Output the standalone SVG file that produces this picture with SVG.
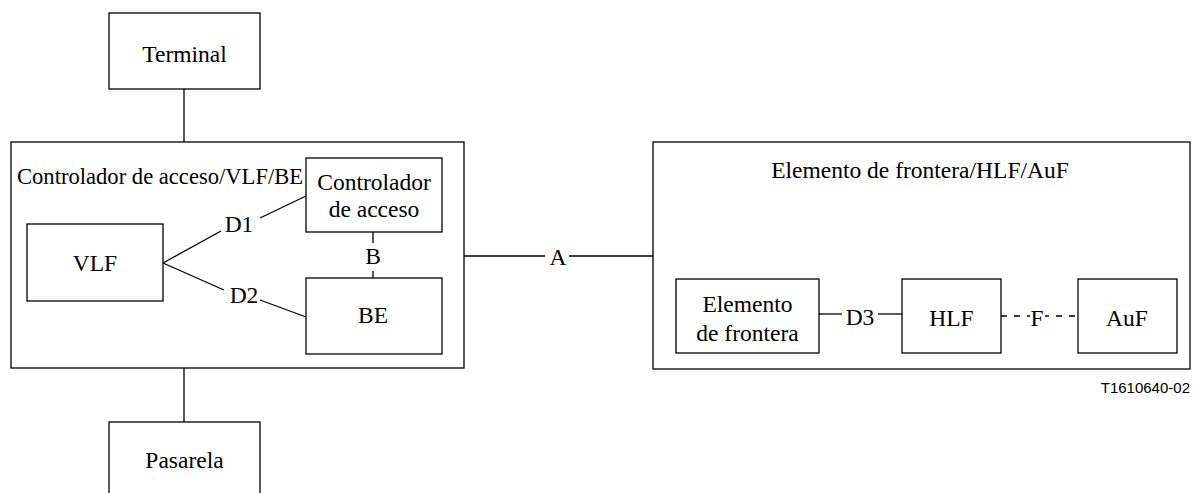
<svg xmlns="http://www.w3.org/2000/svg" width="1195" height="493" viewBox="0 0 1195 493">
  <style>
    .box { fill: #fff; stroke: #000; stroke-width: 1.3; }
    .frame { fill: none; stroke: #000; stroke-width: 1.3; }
    .ln { fill: none; stroke: #000; stroke-width: 1.3; }
    .dash { fill: none; stroke: #000; stroke-width: 1.3; stroke-dasharray: 6 7; }
    .t { font-size: 23.5px; fill: #000; }
    .c { text-anchor: middle; }
    .ref { font-size: 15px; fill: #000; text-anchor: end; }
  </style>

  <g font-family="Times New Roman, Liberation Serif, Tinos, DejaVu Serif, serif">
  <!-- connectors -->
  <g id="connectors">
    <line class="ln" x1="184" y1="89" x2="184" y2="142"/>
    <line class="ln" x1="184" y1="368" x2="184" y2="422"/>
    <!-- D1 -->
    <line class="ln" x1="163" y1="263" x2="221" y2="231"/>
    <line class="ln" x1="260" y1="218" x2="306" y2="196"/>
    <!-- D2 -->
    <line class="ln" x1="163" y1="263" x2="224" y2="290"/>
    <line class="ln" x1="260" y1="300" x2="306" y2="317"/>
    <!-- B -->
    <line class="ln" x1="373" y1="232" x2="373" y2="243"/>
    <line class="ln" x1="373" y1="271" x2="373" y2="278"/>
    <!-- A -->
    <line class="ln" x1="464" y1="256" x2="545" y2="256"/>
    <line class="ln" x1="569" y1="256" x2="653" y2="256"/>
    <!-- D3 -->
    <line class="ln" x1="819" y1="314" x2="842" y2="314"/>
    <line class="ln" x1="878" y1="314" x2="902" y2="314"/>
    <!-- F -->
    <line class="dash" x1="1001" y1="316" x2="1030" y2="316"/>
    <line class="dash" x1="1045" y1="316" x2="1078" y2="316" stroke-dashoffset="2"/>
    <text class="t c" x="239" y="232">D1</text>
    <text class="t c" x="244" y="303">D2</text>
    <text class="t c" x="373" y="264">B</text>
    <text class="t c" x="558" y="265">A</text>
    <text class="t c" x="860" y="325">D3</text>
    <text class="t c" x="1037" y="326">F</text>
  </g>

  <g id="terminal">
    <rect class="box" x="109" y="13" width="151" height="76"/>
    <text class="t c" x="184.5" y="62">Terminal</text>
  </g>

  <g id="controlador-vlf-be">
    <rect class="frame" x="11" y="142" width="453" height="226"/>
    <text class="t" x="17" y="184" style="font-size:22.6px">Controlador de acceso/VLF/BE</text>
  </g>

  <g id="vlf">
    <rect class="box" x="27" y="224" width="136" height="77"/>
    <text class="t c" x="95" y="271">VLF</text>
  </g>

  <g id="controlador">
    <rect class="frame" x="306" y="158" width="136" height="74"/>
    <text class="t c" x="374" y="190">Controlador</text>
    <text class="t c" x="374" y="217">de acceso</text>
  </g>

  <g id="be">
    <rect class="box" x="306" y="278" width="136" height="76"/>
    <text class="t c" x="373" y="323">BE</text>
  </g>

  <g id="pasarela">
    <rect class="box" x="109" y="422" width="151" height="90"/>
    <text class="t c" x="184.5" y="468">Pasarela</text>
  </g>

  <g id="elemento-hlf-auf">
    <rect class="frame" x="653" y="142" width="537" height="227"/>
    <text class="t c" x="920" y="178">Elemento de frontera/HLF/AuF</text>
  </g>

  <g id="elemento">
    <rect class="box" x="676" y="279" width="143" height="74"/>
    <text class="t c" x="747.5" y="312">Elemento</text>
    <text class="t c" x="747.5" y="341">de frontera</text>
  </g>

  <g id="hlf">
    <rect class="box" x="902" y="279" width="99" height="74"/>
    <text class="t c" x="951.5" y="326">HLF</text>
  </g>

  <g id="auf">
    <rect class="box" x="1078" y="279" width="99" height="74"/>
    <text class="t c" x="1127" y="326">AuF</text>
  </g>
  </g>

  <text class="ref" font-family="Arial, Liberation Sans, sans-serif" x="1190" y="393">T1610640-02</text>
</svg>
